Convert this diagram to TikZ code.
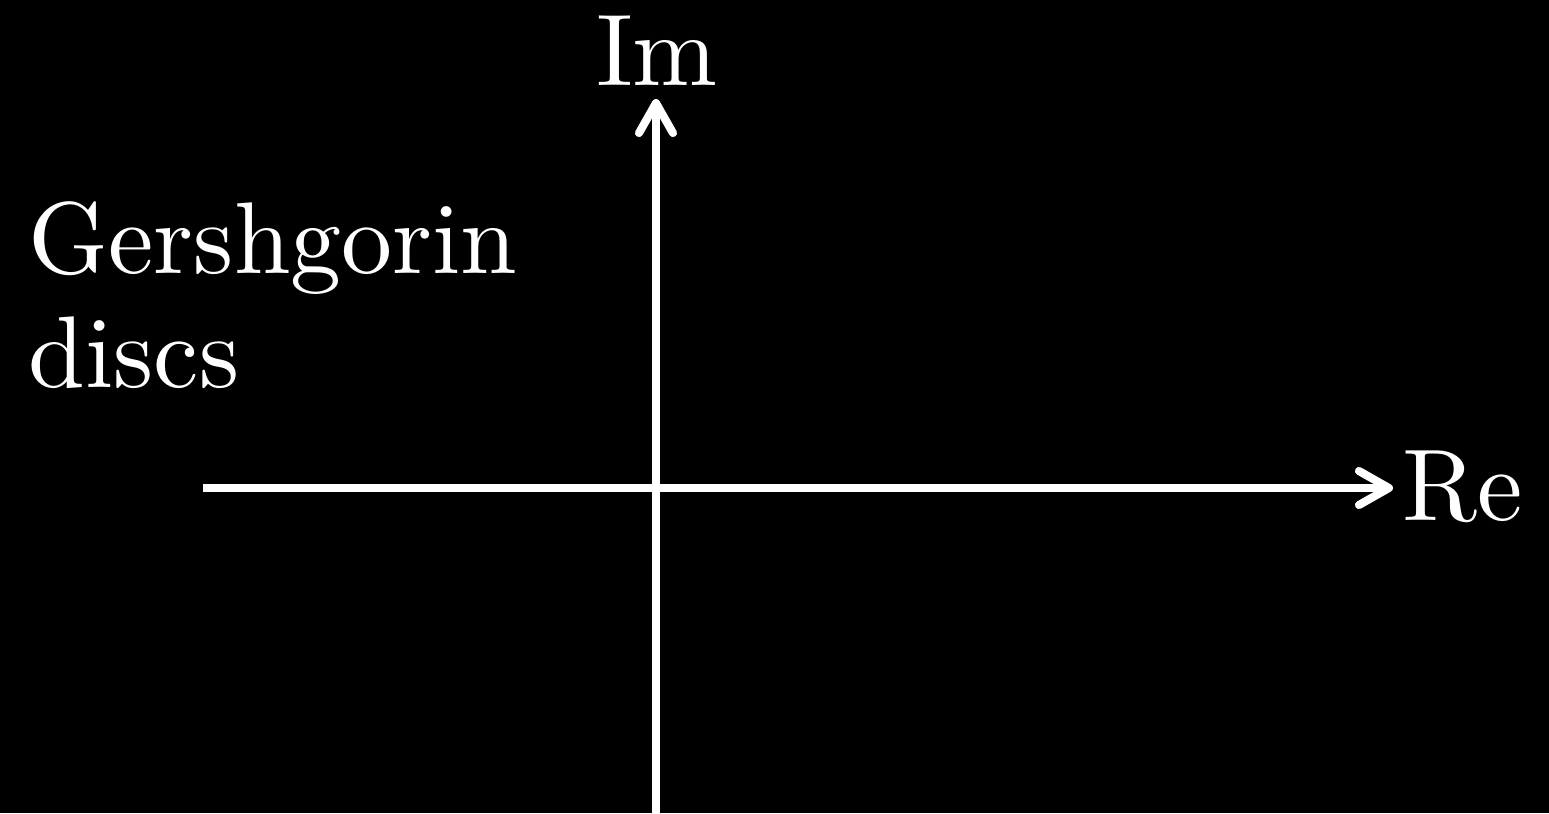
\documentclass[tikz,border=0pt]{standalone}
\usepackage{fontspec}
\newfontfamily\lmten{lmroman10-regular.otf}
\usepackage{tikz}
\usetikzlibrary{arrows.meta, positioning}

\begin{document}
\begin{tikzpicture}[
    every node/.style={text=white, font=\lmten\fontsize{29}{32.4}\selectfont, inner sep=0pt},
    axis/.style={white, line width=2.3pt, -{Straight Barb[round, length=3mm, width=3.4mm]}},
]

% Background
\fill[black] (0,0) rectangle (15.49,8.13);
\useasboundingbox (0,0) rectangle (15.49,8.13);

% Axis ends
\coordinate (xstart) at (2.03,3.25);
\coordinate (xend) at (13.93,3.25);
\coordinate (ystart) at (6.56,0);
\coordinate (yend) at (6.56,7.14);

% Axes
\draw[axis] (xstart) -- (xend);
\draw[axis] (ystart) -- (yend);

% Labels
\node[anchor=base] (im) at (6.57,7.28) {Im};
\node[anchor=base west] (re) at (14.02,2.93) {Re};
\node[anchor=base west, align=left] (gersh) at (0.28,4.26) {Gershgorin\\discs};

\end{tikzpicture}
\end{document}
